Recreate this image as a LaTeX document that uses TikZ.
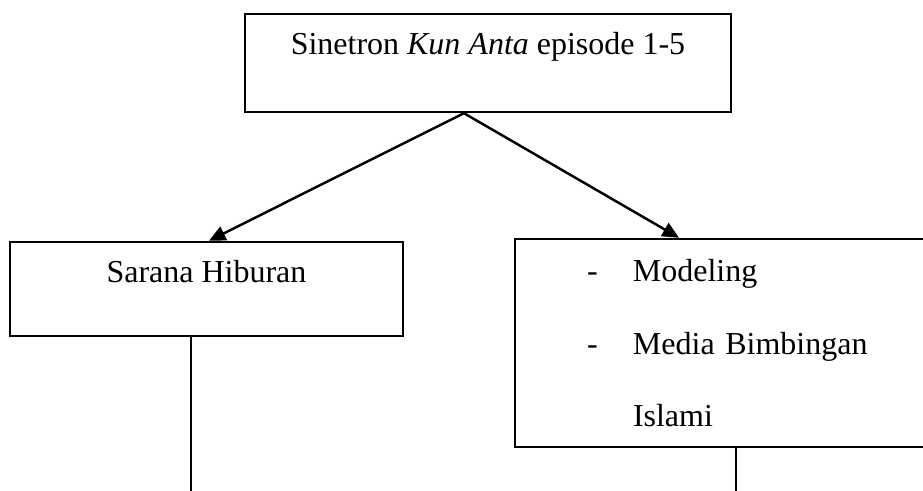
\documentclass[tikz,border=0pt]{standalone}
\usepackage{fontspec}
\setmainfont{Liberation Serif}
\usetikzlibrary{arrows.meta}
\usetikzlibrary{positioning,calc}
\tikzset{
    kotak/.style={
        draw,
        rectangle,
        line width=1.4pt,
        inner sep=0pt,
        text height=0.82cm,
        font=\fontsize{18.2}{41}\selectfont
    },
    arah/.style={
        draw,
        -{Triangle[length=3.3mm, width=3mm]},
        line width=1.4pt
    }
}

\begin{document}
\begin{tikzpicture}
  \path[use as bounding box, clip] (0,0) rectangle (18.46,9.82);

  % Kotak atas
  \node[kotak, minimum width=9.72cm, text depth=1.14cm] (sinetron) at (9.76,8.56) {Sinetron \textit{Kun Anta} episode 1-5};

  % Kotak kiri dan kanan
  \node[kotak, minimum width=7.86cm, text depth=1.06cm] (hiburan) at (4.13,4.04) {Sarana Hiburan};
  \node[kotak, text width=8.2cm, align=left, text height=0.86cm, text depth=3.3cm] (fungsi) at (14.40,2.96)
    {\makebox[2.36cm][l]{\hspace{1.44cm}-}Modeling\\
     \makebox[2.36cm][l]{\hspace{1.44cm}-}Media Bimbingan\\
     \hspace*{2.36cm}Islami};

  % Panah
  \draw[arah] ($(sinetron.south)+(-0.48,0)$) -- ($(hiburan.north)+(0.05,0)$);
  \draw[arah] ($(sinetron.south)+(-0.48,0)$) -- ($(fungsi.north)+(-0.82,0)$);

  % Garis ke bawah
  \coordinate (ujungkiri) at (3.82,0);
  \coordinate (ujungkanan) at (14.72,0);
  \draw[line width=1.4pt] (hiburan.south -| ujungkiri) -- (ujungkiri);
  \draw[line width=1.4pt] (fungsi.south -| ujungkanan) -- (ujungkanan);
\end{tikzpicture}
\end{document}
